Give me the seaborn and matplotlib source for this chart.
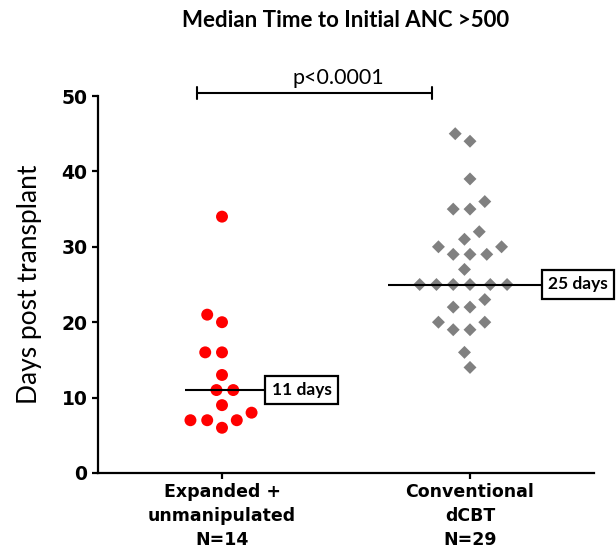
import numpy as np
import pandas as pd
import matplotlib
matplotlib.use("Agg")
import matplotlib.pyplot as plt
import seaborn as sns

# data
groups = ["Expanded +\nunmanipulated\nN=14", "Conventional\ndCBT\nN=29"]
expanded_days = [34, 21, 20, 16, 16, 13, 11, 11, 9, 8, 7, 7, 7, 6]
conventional_days = [45, 44, 39, 36, 35, 35, 32, 31, 30, 30, 29, 29, 29, 27,
                     25, 25, 25, 25, 25, 25, 23, 22, 22, 20, 20, 19, 19, 16, 14]
p_label = "p<0.0001"

sns.set_style("ticks")
plt.rcParams['font.family'] = ["Lato", "DejaVu Sans"]
plt.rcParams.update({"text.color": "black", "axes.labelcolor": "black",
                     "xtick.color": "black", "ytick.color": "black",
                     "axes.edgecolor": "black"})

df = pd.DataFrame({
    "group": [groups[0]] * len(expanded_days) + [groups[1]] * len(conventional_days),
    "days": expanded_days + conventional_days,
})

fig = plt.figure(figsize=(6.16, 5.48), dpi=100)
ax = fig.add_axes([98/616, 75/548, 496/616, 377/548])

sns.swarmplot(data=df[df["group"] == groups[0]], x="group", y="days", order=groups,
              color="#ff0000", marker="o", size=8.6, linewidth=2.9, ax=ax)
sns.swarmplot(data=df[df["group"] == groups[1]], x="group", y="days", order=groups,
              color="#808080", marker="D", size=6.6, linewidth=4.9, ax=ax)
for coll in ax.collections:
    coll.set_edgecolor("none")

# median lines + labels
med_spans = [(-0.15, 0.175), (0.67, 1.29)]
for (lo, hi), vals in zip(med_spans, [expanded_days, conventional_days]):
    med = np.median(vals)
    ax.hlines(med, lo, hi, color="black", lw=1.5, zorder=3)
    ax.annotate(f"{med:.0f} days", xy=(hi, med), xytext=(4.5, 0), textcoords="offset points",
                ha="left", va="center", fontsize=12.5, fontweight="bold",
                annotation_clip=False, zorder=4,
                bbox=dict(boxstyle="square,pad=0.36", fc="white", ec="black", lw=1.6))

# significance bar
ax.plot([-0.1, 0.847], [50.4, 50.4], color="black", lw=1.5, clip_on=False)
for xx in [-0.1, 0.847]:
    ax.plot([xx, xx], [49.6, 51.2], color="black", lw=1.5, clip_on=False)
ax.text(0.47, 51.0, p_label, ha="center", va="bottom", fontsize=15.5)

ax.set_xlim(-0.5, 1.5)
ax.set_ylim(0, 50)
ax.set_yticks([0, 10, 20, 30, 40, 50])
ax.set_xlabel("")
ax.set_ylabel("Days post transplant", fontsize=19, labelpad=14)
ax.set_title("Median Time to Initial ANC >500", fontsize=16, fontweight="bold", pad=50)

for sp in ["left", "bottom"]:
    ax.spines[sp].set_linewidth(1.6)
sns.despine(ax=ax)
ax.tick_params(width=1.6, length=4, color="black")
for lab in ax.get_yticklabels():
    lab.set_fontfamily("DejaVu Sans")
    lab.set_fontweight("bold")
    lab.set_fontsize(13.5)
for lab in ax.get_xticklabels():
    lab.set_fontfamily("DejaVu Sans")
    lab.set_fontweight("bold")
    lab.set_fontsize(12.5)
    lab.set_linespacing(1.4)

plt.savefig("out.png", dpi=100)
